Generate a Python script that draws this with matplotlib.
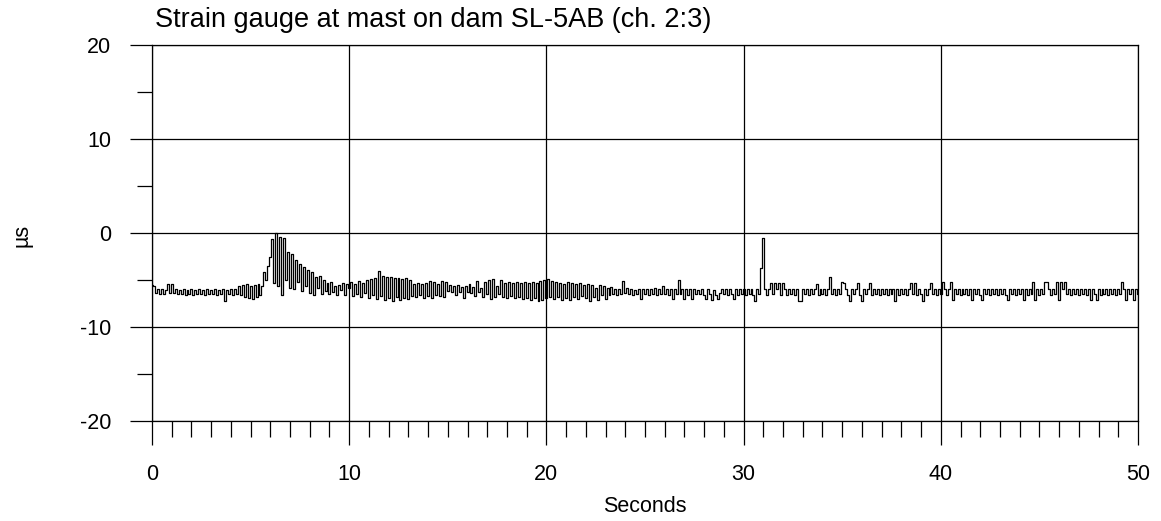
import numpy as np
import matplotlib
matplotlib.use("Agg")
import matplotlib.pyplot as plt
from matplotlib.ticker import MultipleLocator

# strain readings (microstrain), one sample every 0.1 s, split in 5 s blocks
seg_00_05 = [-5.5, -5.6, -6.4, -6.0, -6.5, -6.0, -6.5, -6.1, -5.4, -6.4,
             -5.4, -6.4, -6.0, -6.5, -6.1, -6.5, -6.0, -6.6, -6.1, -6.5,
             -6.0, -6.6, -6.1, -6.5, -6.0, -6.5, -6.1, -6.6, -6.0, -6.5,
             -6.1, -6.5, -6.0, -6.6, -6.1, -6.5, -6.0, -7.2, -6.1, -6.5,
             -6.0, -6.6, -6.0, -6.5, -5.6, -6.6, -5.5, -6.8, -5.4, -6.9]
seg_05_10 = [-5.6, -7.0, -5.5, -6.8, -5.4, -6.6, -5.6, -4.2, -5.0, -3.5,
             -2.6, -0.6, -5.3, 0.0, -5.6, -0.4, -6.6, -0.5, -5.0, -2.0,
             -5.8, -2.2, -6.0, -2.9, -5.2, -3.3, -6.2, -3.6, -5.6, -3.9,
             -6.4, -4.1, -6.6, -4.7, -5.9, -4.6, -6.5, -5.0, -6.2, -5.3,
             -6.5, -5.2, -6.3, -5.6, -6.6, -5.5, -6.1, -5.3, -6.6, -5.4]
seg_10_15 = [-5.8, -5.2, -6.7, -5.4, -6.5, -5.1, -6.8, -5.3, -6.4, -5.0,
             -6.9, -4.9, -6.6, -4.8, -7.0, -4.0, -6.7, -4.6, -7.1, -4.7,
             -6.9, -4.7, -7.2, -4.8, -6.8, -4.8, -7.1, -4.9, -6.9, -4.8,
             -7.0, -5.0, -6.7, -5.4, -6.8, -5.3, -6.6, -5.4, -6.9, -5.3,
             -6.7, -5.1, -6.9, -5.2, -6.6, -5.4, -6.7, -5.1, -6.8, -5.2]
seg_15_20 = [-6.2, -5.5, -6.3, -5.6, -6.6, -5.5, -6.3, -5.7, -6.9, -5.6,
             -6.3, -5.4, -6.4, -5.7, -6.7, -5.1, -6.3, -5.8, -6.8, -5.2,
             -6.5, -5.0, -7.0, -4.9, -6.8, -5.6, -6.5, -5.0, -6.8, -5.3,
             -6.9, -5.2, -6.7, -5.3, -6.9, -5.2, -6.8, -5.3, -7.0, -5.2,
             -6.9, -5.3, -7.1, -5.2, -6.9, -5.3, -7.2, -5.1, -7.1, -5.0]
seg_20_25 = [-6.9, -4.9, -6.8, -5.1, -7.0, -5.2, -6.8, -5.3, -7.1, -5.4,
             -6.9, -5.2, -7.1, -5.3, -6.8, -5.4, -7.0, -5.3, -6.7, -5.5,
             -6.9, -5.4, -7.2, -5.5, -6.8, -5.8, -7.1, -5.5, -6.6, -5.6,
             -7.0, -5.9, -6.6, -5.7, -6.5, -6.0, -6.6, -6.0, -6.5, -5.1,
             -6.4, -5.9, -6.5, -6.0, -6.6, -6.1, -6.5, -6.0, -7.0, -6.0]
seg_25_30 = [-6.5, -6.0, -6.6, -6.0, -6.5, -5.9, -6.6, -6.0, -6.5, -5.6,
             -6.5, -6.0, -6.6, -6.0, -7.0, -6.0, -6.5, -5.0, -6.5, -6.0,
             -7.0, -6.0, -6.6, -6.0, -7.0, -6.0, -6.5, -6.1, -6.5, -6.0,
             -6.6, -7.0, -6.0, -6.5, -7.1, -6.1, -6.6, -7.0, -6.4, -6.0,
             -6.5, -6.0, -6.6, -6.0, -6.5, -7.0, -6.0, -6.6, -6.0, -6.5]
seg_30_35 = [-6.0, -6.6, -6.0, -6.5, -6.0, -6.6, -7.2, -6.0, -6.5, -3.7,
             -0.5, -6.0, -6.6, -6.0, -5.3, -6.5, -5.3, -6.0, -5.3, -6.6,
             -5.3, -6.0, -6.6, -6.0, -6.5, -6.0, -6.6, -6.0, -7.2, -7.2,
             -6.0, -6.5, -6.0, -6.6, -6.0, -6.5, -6.0, -5.4, -6.6, -6.0,
             -6.5, -6.0, -6.6, -6.0, -4.7, -6.5, -6.0, -6.6, -6.0, -6.5]
seg_35_40 = [-5.2, -5.3, -6.0, -6.6, -7.2, -6.0, -6.5, -6.0, -5.3, -6.6,
             -7.2, -6.0, -6.5, -6.0, -5.3, -6.6, -6.0, -6.5, -6.0, -6.6,
             -6.0, -6.5, -6.0, -6.6, -6.0, -6.5, -6.0, -7.2, -6.0, -6.6,
             -6.0, -6.5, -6.0, -6.6, -6.0, -5.3, -6.5, -5.3, -6.6, -6.0,
             -6.5, -7.2, -6.0, -6.6, -6.0, -5.3, -6.5, -6.0, -6.6, -6.0]
seg_40_45 = [-6.5, -5.2, -6.0, -6.6, -6.0, -5.2, -7.1, -6.0, -6.5, -6.0,
             -6.6, -6.0, -6.5, -6.0, -6.6, -6.0, -7.1, -6.0, -6.5, -6.0,
             -6.6, -7.1, -6.0, -6.5, -6.0, -6.6, -6.0, -6.5, -6.0, -6.6,
             -6.0, -6.5, -6.0, -6.6, -7.1, -6.0, -6.5, -6.0, -6.6, -6.0,
             -6.5, -6.0, -7.1, -6.0, -6.6, -6.0, -6.5, -5.2, -7.1, -6.0]
seg_45_50 = [-6.6, -6.0, -6.5, -5.2, -5.2, -6.0, -6.6, -6.0, -6.5, -5.2,
             -7.1, -5.2, -6.0, -5.2, -6.5, -6.0, -6.6, -6.0, -6.5, -6.0,
             -6.6, -6.0, -6.5, -6.0, -6.6, -6.0, -7.1, -6.0, -6.5, -7.1,
             -6.0, -6.6, -6.0, -6.5, -6.0, -6.6, -6.0, -6.5, -6.0, -6.6,
             -6.0, -6.5, -5.2, -6.0, -7.1, -6.0, -6.5, -6.0, -7.1, -6.0,
             -6.5]

strain = np.array(seg_00_05 + seg_05_10 + seg_10_15 + seg_15_20 + seg_20_25
                  + seg_25_30 + seg_30_35 + seg_35_40 + seg_40_45 + seg_45_50)
seconds = np.linspace(0, 50, len(strain))

plt.rcParams["font.family"] = ["Liberation Sans", "DejaVu Sans"]
plt.rcParams["axes.unicode_minus"] = False

fig = plt.figure(figsize=(11.61, 5.21), dpi=100)
ax = fig.add_axes([152 / 1161, 1 - 421 / 521, 986 / 1161, 376 / 521])

ax.plot(seconds, strain, color="black", lw=0.9, drawstyle="steps-mid")

ax.set_xlim(0, 50)
ax.set_ylim(-20, 20)
ax.xaxis.set_major_locator(MultipleLocator(10))
ax.xaxis.set_minor_locator(MultipleLocator(1))
ax.yaxis.set_major_locator(MultipleLocator(10))
ax.yaxis.set_minor_locator(MultipleLocator(5))
ax.grid(True, which="major", color="black", lw=0.9)

ax.tick_params(axis="x", which="major", direction="out", length=17, width=0.9,
               pad=14, labelsize=15.5)
ax.tick_params(axis="x", which="minor", direction="out", length=11.5, width=0.9)
ax.tick_params(axis="y", which="major", direction="out", length=15.5, width=0.9,
               pad=14, labelsize=15.5)
ax.tick_params(axis="y", which="minor", direction="out", length=10.5, width=0.9)
for s in ax.spines.values():
    s.set_linewidth(0.9)

ax.set_xlabel("Seconds", fontsize=15.5)
ax.xaxis.set_label_coords(0.5, -0.2)
fig.text(22 / 1161, 1 - 235 / 521, "µs", rotation=90, ha="center", va="center",
         fontsize=15.5)
fig.text(155 / 1161, 1 - 27 / 521, "Strain gauge at mast on dam SL-5AB (ch. 2:3)",
         ha="left", va="baseline", fontsize=19.5)

fig.savefig("out.png", dpi=100)
